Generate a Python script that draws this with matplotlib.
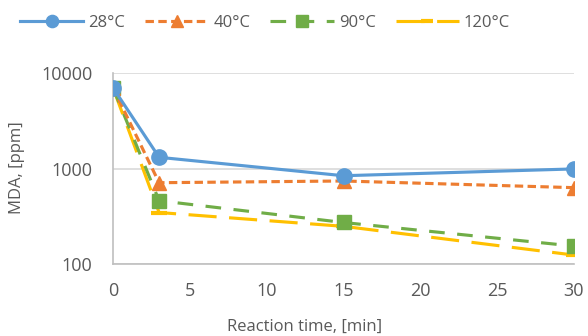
import matplotlib
matplotlib.use("Agg")
import matplotlib.pyplot as plt
from matplotlib.ticker import FixedLocator, FixedFormatter, NullLocator

time_min = [0, 3, 15, 30]
mda_28 = [7000, 1310, 840, 990]
mda_40 = [7000, 710, 740, 630]
mda_90 = [7000, 460, 272, 154]
mda_120 = [7000, 346, 248, 124]
series_labels = ["28°C", "40°C", "90°C", "120°C"]
x_ticks = [0, 5, 10, 15, 20, 25, 30]
y_ticks = [100, 1000, 10000]
y_tick_labels = ["100", "1000", "10000"]

plt.rcParams['font.family'] = ['Open Sans', 'DejaVu Sans']
txt = "#595959"
grid = "#D9D9D9"
fs = 12

fig = plt.figure(figsize=(5.88, 3.36), dpi=100)
ax = fig.add_axes([113/588, 1-264/336, (574-113)/588, (264-73)/336])

lw = 2.25
ax.plot(time_min, mda_28, color="#5B9BD5", lw=lw, ls="-", marker="o", ms=11, label=series_labels[0], zorder=5)
ax.plot(time_min, mda_40, color="#ED7D31", lw=lw, ls=(0, (2.7, 1.4)), marker="^", ms=10, label=series_labels[1], zorder=4)
ax.plot(time_min, mda_90, color="#70AD47", lw=lw, ls=(0, (5, 4)), marker="s", ms=10, label=series_labels[2], zorder=3)
ax.plot(time_min, mda_120, color="#FFC000", lw=lw, ls=(0, (9, 4)), marker="_", ms=11, mew=3, label=series_labels[3], zorder=2)

ax.set_yscale("log")
ax.set_ylim(100, 10000)
ax.set_xlim(0, 30)
ax.yaxis.set_major_locator(FixedLocator(y_ticks))
ax.yaxis.set_major_formatter(FixedFormatter(y_tick_labels))
ax.yaxis.set_minor_locator(NullLocator())
ax.set_xticks(x_ticks)
ax.tick_params(axis="both", length=0, labelsize=13, colors=txt)
ax.tick_params(axis="y", pad=15)
ax.tick_params(axis="x", pad=13)
ax.grid(axis="y", color=grid, lw=1.2)
for s in ["top", "right"]:
    ax.spines[s].set_visible(False)
for s in ["left", "bottom"]:
    ax.spines[s].set_color("#BFBFBF")
    ax.spines[s].set_linewidth(1.2)

fig.text(305/588, 1-327/336, "Reaction time, [min]", ha="center", va="center", fontsize=fs, color=txt)
fig.text(17/588, 1-168/336, "MDA, [ppm]", ha="center", va="center", rotation=90, fontsize=fs, color=txt)

leg = fig.legend(loc="center", bbox_to_anchor=(265/588, 1-23/336), ncol=4, frameon=False,
                 fontsize=fs, handlelength=3.8, columnspacing=1.2, handletextpad=0.3, markerscale=0.8)
for t in leg.get_texts():
    t.set_color(txt)

fig.savefig("out.png", dpi=100)
